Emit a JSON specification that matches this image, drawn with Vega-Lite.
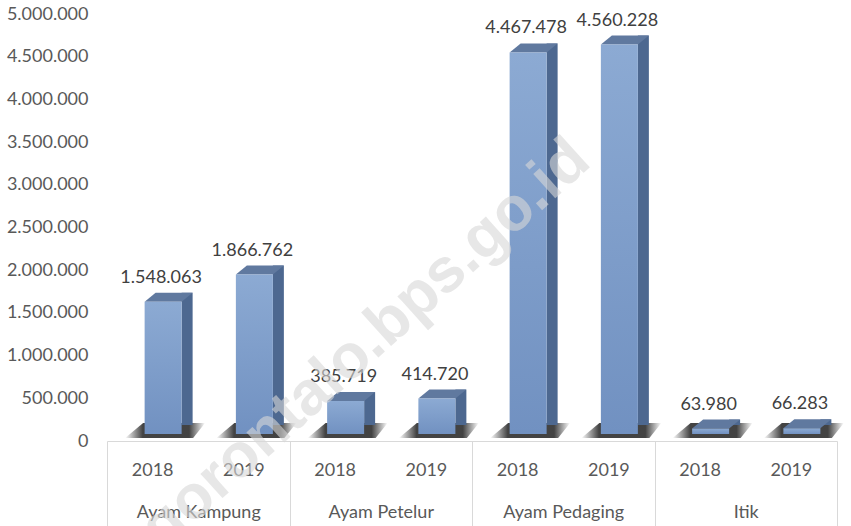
{
  "$schema": "https://vega.github.io/schema/vega-lite/v6.json",
  "autosize": {"type": "none"},
  "padding": {"left": 107, "top": 14, "right": 14, "bottom": 85},
  "width": 730,
  "height": 427,
  "background": "white",
  "config": {
    "view": {"stroke": null},
    "locale": {"number": {"decimal": ",", "thousands": ".", "grouping": [3], "currency": ["Rp", ""]}},
    "font": "Lato"
  },
  "layer": [
    {
      "data": {"values": [
        {"kategori": "Ayam Kampung", "tahun": "2018", "key": "Ayam Kampung|2018", "nilai": 1548063},
        {"kategori": "Ayam Kampung", "tahun": "2019", "key": "Ayam Kampung|2019", "nilai": 1866762},
        {"kategori": "Ayam Petelur", "tahun": "2018", "key": "Ayam Petelur|2018", "nilai": 385719},
        {"kategori": "Ayam Petelur", "tahun": "2019", "key": "Ayam Petelur|2019", "nilai": 414720},
        {"kategori": "Ayam Pedaging", "tahun": "2018", "key": "Ayam Pedaging|2018", "nilai": 4467478},
        {"kategori": "Ayam Pedaging", "tahun": "2019", "key": "Ayam Pedaging|2019", "nilai": 4560228},
        {"kategori": "Itik", "tahun": "2018", "key": "Itik|2018", "nilai": 63980},
        {"kategori": "Itik", "tahun": "2019", "key": "Itik|2019", "nilai": 66283}
      ]},
      "encoding": {
        "x": {
          "field": "key", "type": "nominal",
          "scale": {"domain": ["Ayam Kampung|2018", "Ayam Kampung|2019", "Ayam Petelur|2018", "Ayam Petelur|2019", "Ayam Pedaging|2018", "Ayam Pedaging|2019", "Itik|2018", "Itik|2019"], "paddingInner": 0, "paddingOuter": 0},
          "axis": {"orient": "bottom", "title": null, "domain": false, "ticks": false, "labelAngle": 0, "labelPadding": 20, "labelFont": "Lato", "labelFontSize": 18, "labelColor": "#595959", "labelExpr": "split(datum.label, '|')[1]"}
        },
        "y": {
          "field": "nilai", "type": "quantitative",
          "scale": {"domain": [0, 5000000], "nice": false, "zero": true},
          "axis": {"title": null, "grid": false, "domain": false, "ticks": false, "labelPadding": 19, "labelFont": "Lato", "labelFontSize": 18, "labelColor": "#595959", "format": ",.0f", "values": [0, 500000, 1000000, 1500000, 2000000, 2500000, 3000000, 3500000, 4000000, 4500000, 5000000]}
        }
      },
      "layer": [
        {
          "mark": {"type": "point", "filled": true, "shape": "M-1,0.1875L-0.55,-0.1875L1,-0.1875L0.7,0.1875Z", "size": 6400, "strokeWidth": 0, "xOffset": 12.5, "yOffset": -10.5,
            "color": {"gradient": "linear", "x1": 0, "y1": 0, "x2": 1, "y2": 0, "stops": [{"offset": 0, "color": "#ffffff"}, {"offset": 0.22, "color": "#2e2e2e"}, {"offset": 0.8, "color": "#2e2e2e"}, {"offset": 1, "color": "#ffffff"}]}, "opacity": 0.9},
          "encoding": {"y": {"datum": 0}}
        },
        {
          "mark": {"type": "bar", "width": 11, "xOffset": 34.5, "yOffset": -16, "y2Offset": -7, "color": "#4d6890"}
        },
        {
          "mark": {"type": "point", "filled": true, "shape": "M-1,0.1875L-0.5417,-0.1875L1,-0.1875L0.5417,0.1875Z", "size": 2304, "color": "#60799f", "opacity": 1, "strokeWidth": 0, "xOffset": 16, "yOffset": -11.5}
        },
        {
          "mark": {"type": "bar", "width": 37, "xOffset": 10.5, "yOffset": -7, "y2Offset": -7,
            "color": {"gradient": "linear", "x1": 0, "y1": 0, "x2": 0, "y2": 1, "stops": [{"offset": 0, "color": "#8caad3"}, {"offset": 1, "color": "#7191c1"}]}}
        },
        {
          "mark": {"type": "text", "font": "Lato", "fontSize": 18, "color": "#404040", "baseline": "alphabetic", "align": "center", "xOffset": 8.5, "yOffset": -26},
          "encoding": {"text": {"field": "nilai", "type": "quantitative", "format": ",.0f"}}
        },
        {
          "data": {"values": [{"key": "Ayam Petelur|2018", "nilai": 1160000, "wm": "gorontalo.bps.go.id"}]},
          "mark": {"type": "text", "font": "Liberation Sans", "fontWeight": "bold", "fontSize": 62, "angle": -42, "color": "#d8d8d8", "opacity": 0.6, "align": "center", "baseline": "middle", "xOffset": 30, "yOffset": 2},
          "encoding": {"text": {"field": "wm", "type": "nominal"}}
        }
      ]
    },
    {
      "data": {"values": [
        {"kategori": "Ayam Kampung"},
        {"kategori": "Ayam Petelur"},
        {"kategori": "Ayam Pedaging"},
        {"kategori": "Itik"}
      ]},
      "mark": {"type": "text", "text": "", "opacity": 0},
      "encoding": {
        "x": {
          "field": "kategori", "type": "nominal",
          "scale": {"domain": ["Ayam Kampung", "Ayam Petelur", "Ayam Pedaging", "Itik"], "paddingInner": 0, "paddingOuter": 0},
          "axis": {"orient": "bottom", "title": null, "domain": true, "domainColor": "#d9d9d9", "domainWidth": 1, "ticks": true, "tickSize": 85, "tickColor": "#d9d9d9", "tickWidth": 1, "tickBand": "extent", "labelAngle": 0, "labelPadding": -23, "labelFont": "Lato", "labelFontSize": 18, "labelColor": "#595959"}
        }
      }
    }
  ],
  "resolve": {"scale": {"x": "independent"}, "axis": {"x": "independent"}}
}
